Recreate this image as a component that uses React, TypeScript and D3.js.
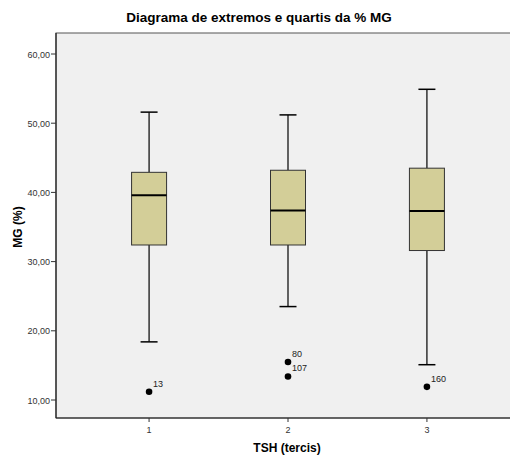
import React from "react";
import * as d3 from "d3";

const categories = ["1", "2", "3"];
const whiskerHigh = [51.6, 51.2, 54.9];
const q3 = [42.9, 43.2, 43.5];
const medians = [39.6, 37.4, 37.3];
const q1 = [32.4, 32.4, 31.6];
const whiskerLow = [18.4, 23.5, 15.1];
const outlierCat = ["1", "2", "2", "3"];
const outlierValues = [11.2, 15.5, 13.4, 11.9];
const outlierLabels = ["13", "80", "107", "160"];
const yTicks = [10, 20, 30, 40, 50, 60];

const W = 510;
const H = 458;
const left = 56;
const top = 33;
const bottom = 418;

export default function App() {
  const x = d3.scaleLinear().domain([0.33, 3.67]).range([left, 520]);
  const y = d3.scaleLinear().domain([10, 60]).range([400, 54]);
  const fmt = (v: number) => d3.format(".2f")(v).replace(".", ",");
  const boxW = 35;
  const capW = 17;
  const cx = (c: string) => x(+c);
  const font = "Arial, 'Liberation Sans', sans-serif";

  return (
    <svg width={W} height={H} style={{ position: "absolute", left: 0, top: 0 }} fontFamily={font}>
      <rect x={0} y={0} width={W} height={H} fill="#fff" />
      <text x={259} y={22} textAnchor="middle" fontSize={13.5} fontWeight="bold" fill="#000">
        Diagrama de extremos e quartis da % MG
      </text>
      <rect x={left} y={top} width={520 - left} height={bottom - top} fill="#f0f0f0" stroke="#555" strokeWidth={1} />
      <line x1={left} x2={left} y1={top} y2={bottom} stroke="#222" strokeWidth={1.2} />
      <line x1={left} x2={520} y1={bottom} y2={bottom} stroke="#222" strokeWidth={1.2} />
      {yTicks.map((t) => (
        <g key={t}>
          <line x1={left - 5} x2={left} y1={y(t)} y2={y(t)} stroke="#333" />
          <text x={left - 6} y={y(t) + 3.5} textAnchor="end" fontSize={9} fill="#333">
            {fmt(t)}
          </text>
        </g>
      ))}
      {categories.map((c) => (
        <g key={"xt" + c}>
          <line x1={cx(c)} x2={cx(c)} y1={bottom} y2={bottom + 4} stroke="#333" />
          <text x={cx(c)} y={bottom + 15} textAnchor="middle" fontSize={9} fill="#333">
            {c}
          </text>
        </g>
      ))}
      <text x={287} y={452} textAnchor="middle" fontSize={12} fontWeight="bold" fill="#000">
        TSH (tercis)
      </text>
      <text transform={`translate(22,227) rotate(-90)`} textAnchor="middle" fontSize={12} fontWeight="bold" fill="#000">
        MG (%)
      </text>
      {categories.map((c, i) => {
        const xc = cx(c);
        return (
          <g key={"b" + c}>
            <line x1={xc} x2={xc} y1={y(whiskerHigh[i])} y2={y(q3[i])} stroke="#000" strokeWidth={1.2} />
            <line x1={xc} x2={xc} y1={y(q1[i])} y2={y(whiskerLow[i])} stroke="#000" strokeWidth={1.2} />
            <line x1={xc - capW / 2} x2={xc + capW / 2} y1={y(whiskerHigh[i])} y2={y(whiskerHigh[i])} stroke="#000" strokeWidth={1.5} />
            <line x1={xc - capW / 2} x2={xc + capW / 2} y1={y(whiskerLow[i])} y2={y(whiskerLow[i])} stroke="#000" strokeWidth={1.5} />
            <rect x={xc - boxW / 2} y={y(q3[i])} width={boxW} height={y(q1[i]) - y(q3[i])} fill="#d3ce98" stroke="#333" strokeWidth={1} />
            <line x1={xc - boxW / 2} x2={xc + boxW / 2} y1={y(medians[i])} y2={y(medians[i])} stroke="#000" strokeWidth={2} />
          </g>
        );
      })}
      {outlierValues.map((v, i) => {
        const xc = cx(outlierCat[i]);
        return (
          <g key={"o" + i}>
            <circle cx={xc} cy={y(v)} r={3.3} fill="#000" />
            <text x={xc + 4} y={y(v) - 5} fontSize={9} fill="#222">
              {outlierLabels[i]}
            </text>
          </g>
        );
      })}
    </svg>
  );
}
